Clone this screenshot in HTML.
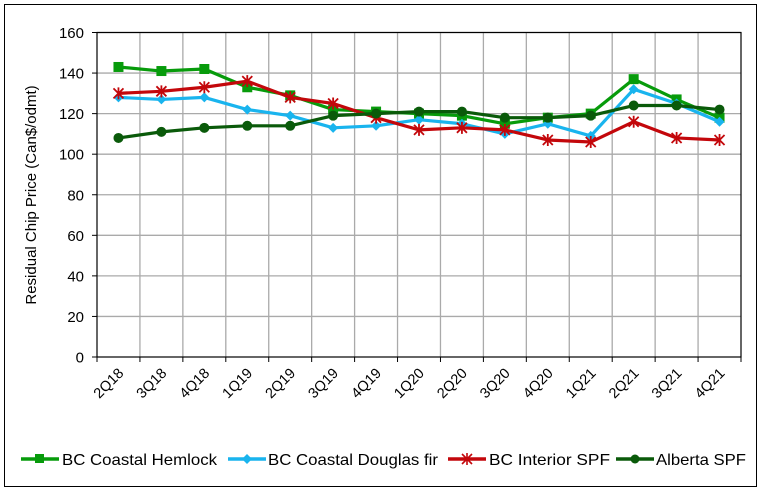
<!DOCTYPE html>
<html><head><style>
body{margin:0;background:#fff}
svg{display:block;font-family:"Liberation Sans",Arial,sans-serif}
</style></head><body>
<svg width="764" height="490" viewBox="0 0 764 490">
<rect x="4.5" y="4.5" width="752" height="482" fill="#fff" stroke="#000"/>
<g id="grid" stroke="#aaaaaa" stroke-width="1.3"></g>
<rect x="97" y="32.5" width="644" height="324.5" fill="none" stroke="#000" stroke-width="1.2"/>
<g id="ticks" stroke="#000" stroke-width="1"></g>
<g id="yl" font-size="15" text-anchor="end" fill="#000"></g>
<g id="xl" font-size="14.5" fill="#000"></g>
<text transform="translate(36,195) rotate(-90)" font-size="15" text-anchor="middle">Residual Chip Price (Can$/odmt)</text>
<g id="series"></g>
<g font-size="16">
<line x1="21" y1="459" x2="59" y2="459" stroke="#079b0b" stroke-width="3.5"/><rect x="35" y="454" width="9" height="9" fill="#079b0b"/>
<text x="62" y="465" textLength="155" lengthAdjust="spacingAndGlyphs">BC Coastal Hemlock</text>
<line x1="228" y1="459" x2="266" y2="459" stroke="#19b4ee" stroke-width="3.5"/><path d="M247 454 L252 459 L247 464 L242 459Z" fill="#19b4ee"/>
<text x="268" y="465" textLength="170" lengthAdjust="spacingAndGlyphs">BC Coastal Douglas fir</text>
<line x1="448" y1="459" x2="486" y2="459" stroke="#c3070b" stroke-width="3.5"/><path d="M462 454L472 464M472 454L462 464M467 453L467 465" stroke="#c3070b" stroke-width="1.6"/>
<text x="489" y="465" textLength="121" lengthAdjust="spacingAndGlyphs">BC Interior SPF</text>
<line x1="616" y1="459" x2="654" y2="459" stroke="#0a5a0a" stroke-width="3.5"/><circle cx="635" cy="459" r="4.5" fill="#0a5a0a"/>
<text x="656" y="465" textLength="90" lengthAdjust="spacingAndGlyphs">Alberta SPF</text>
</g>
</svg>
<script>
const ns="http://www.w3.org/2000/svg";
function el(t,a,p,txt){const e=document.createElementNS(ns,t);for(const k in a)e.setAttribute(k,a[k]);if(txt!=null)e.textContent=txt;document.getElementById(p).appendChild(e);return e;}
const x0=97,x1=741,y0=357,yt=32.5,n=15,st=(x1-x0)/n;
const Y=v=>y0-(v/160)*(y0-yt);
for(let v=20;v<=160;v+=20)el('line',{x1:x0,x2:x1,y1:Y(v),y2:Y(v)},'grid');
for(let i=1;i<n;i++)el('line',{x1:x0+i*st,x2:x0+i*st,y1:yt,y2:y0},'grid');
for(let v=0;v<=160;v+=20){el('text',{x:84,y:Y(v)+5.5},'yl',v);el('line',{x1:x0-5,x2:x0,y1:Y(v),y2:Y(v)},'ticks');}
for(let i=0;i<=n;i++)el('line',{x1:x0+i*st,x2:x0+i*st,y1:y0,y2:y0+5},'ticks');
const labs=["2Q18","3Q18","4Q18","1Q19","2Q19","3Q19","4Q19","1Q20","2Q20","3Q20","4Q20","1Q21","2Q21","3Q21","4Q21"];
labs.forEach((l,i)=>{const cx=x0+(i+0.5)*st;el('text',{x:0,y:0,transform:`translate(${cx+6},${y0+17}) rotate(-45)`,'text-anchor':'end'},'xl',l);});
const S=[
["#079b0b","sq",[143,141,142,133,129,122,121,120,119,115,118,120,137,127,118]],
["#19b4ee","dm",[128,127,128,122,119,113,114,117,115,110,115,109,132,125,116]],
["#c3070b","st",[130,131,133,136,128,125,118,112,113,112,107,106,116,108,107]],
["#0a5a0a","ci",[108,111,113,114,114,119,120,121,121,118,118,119,124,124,122]]];
S.forEach(([c,m,d])=>{
 const pts=d.map((v,i)=>[x0+(i+0.5)*st,Y(v)]);
 el('polyline',{points:pts.map(p=>p.join(',')).join(' '),fill:'none',stroke:c,'stroke-width':3.2,'stroke-linejoin':'round'},'series');
 pts.forEach(([x,y])=>{
  if(m=='sq')el('rect',{x:x-5,y:y-5,width:10,height:10,fill:c},'series');
  if(m=='dm')el('path',{d:`M${x} ${y-5}L${x+5} ${y}L${x} ${y+5}L${x-5} ${y}Z`,fill:c},'series');
  if(m=='ci')el('circle',{cx:x,cy:y,r:5,fill:c},'series');
  if(m=='st')el('path',{d:`M${x-5} ${y-5}L${x+5} ${y+5}M${x+5} ${y-5}L${x-5} ${y+5}M${x} ${y-6}L${x} ${y+6}`,stroke:c,'stroke-width':1.8},'series');
 });
});
</script>
</body></html>
